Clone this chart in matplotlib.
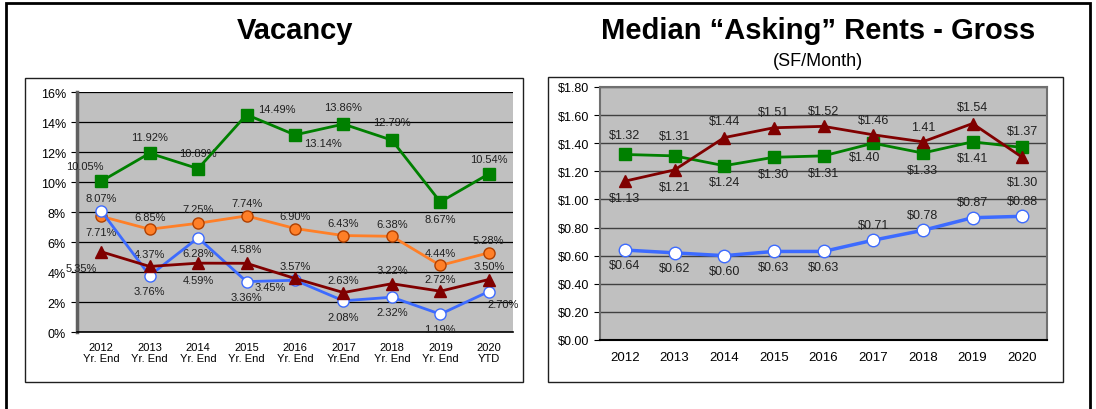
import matplotlib
matplotlib.use('Agg')
import matplotlib.pyplot as plt
import matplotlib.patches as mpatches
import numpy as np

plt.rcParams['font.family'] = ['Liberation Sans', 'DejaVu Sans']

W, H = 1096, 410

# ---- Vacancy data (%) ----
vac_labels = ['2012\nYr. End', '2013\nYr. End', '2014\nYr. End', '2015\nYr. End', '2016\nYr. End',
              '2017\nYr.End', '2018\nYr. End', '2019\nYr. End', '2020\nYTD']
vac_green = [10.05, 11.92, 10.89, 14.49, 13.14, 13.86, 12.79, 8.67, 10.54]
vac_orange = [7.71, 6.85, 7.25, 7.74, 6.90, 6.43, 6.38, 4.44, 5.28]
vac_blue = [8.07, 3.76, 6.28, 3.36, 3.45, 2.08, 2.32, 1.19, 2.70]
vac_red = [5.35, 4.37, 4.59, 4.58, 3.57, 2.63, 3.22, 2.72, 3.50]

# ---- Rent data ($/SF/month) ----
rent_years = ['2012', '2013', '2014', '2015', '2016', '2017', '2018', '2019', '2020']
rent_red = [1.13, 1.21, 1.44, 1.51, 1.52, 1.46, 1.41, 1.54, 1.30]
rent_green = [1.32, 1.31, 1.24, 1.30, 1.31, 1.40, 1.33, 1.41, 1.37]
rent_blue = [0.64, 0.62, 0.60, 0.63, 0.63, 0.71, 0.78, 0.87, 0.88]

GREEN = '#008000'
ORANGE = '#FF7F27'
BLUE = '#3D6BFF'
RED = '#800000'
BG = '#C0C0C0'


def px_axes(fig, x0, y0, x1, y1):
    return fig.add_axes([x0 / W, 1 - y1 / H, (x1 - x0) / W, (y1 - y0) / H])


def px_rect(fig, x0, y0, x1, y1, lw=1.0, color='#202020'):
    r = mpatches.Rectangle((x0 / W, 1 - y1 / H), (x1 - x0) / W, (y1 - y0) / H,
                           transform=fig.transFigure, fill=False, lw=lw, ec=color)
    fig.patches.append(r)


def label(ax, x, y, txt, off, fs=8):
    ax.annotate(txt, (x, y), textcoords='offset points', xytext=off,
                ha='center', va='center', fontsize=fs, color='#202020')


fig = plt.figure(figsize=(W / 100, H / 100), dpi=100)
fig.patch.set_facecolor('white')

# outer frame and chart boxes
px_rect(fig, 6, 4, 1090, 430, lw=2.0, color='black')
px_rect(fig, 25, 79, 523, 383)
px_rect(fig, 548, 78, 1063, 383)

fig.text(295 / W, 1 - 31 / H, 'Vacancy', ha='center', va='center', fontsize=21, fontweight='bold')
fig.text(818 / W, 1 - 31 / H, 'Median \u201cAsking\u201d Rents - Gross', ha='center', va='center',
         fontsize=21, fontweight='bold')
fig.text(818 / W, 1 - 62 / H, '(SF/Month)', ha='center', va='center', fontsize=13)

# ---------------- Vacancy ----------------
ax = px_axes(fig, 77, 93, 513, 333)
ax.set_facecolor(BG)
x = np.arange(len(vac_labels))
ax.plot(x, np.array(vac_green), color=GREEN, lw=2, marker='s', ms=9, mfc=GREEN, mec=GREEN, zorder=4)
ax.plot(x, np.array(vac_orange), color=ORANGE, lw=2, marker='o', ms=8, mfc=ORANGE, mec='#B04000', zorder=4)
ax.plot(x, np.array(vac_blue), color=BLUE, lw=2, marker='o', ms=8, mfc='white', mec=BLUE, zorder=4)
ax.plot(x, np.array(vac_red), color=RED, lw=2, marker='^', ms=8, mfc=RED, mec=RED, zorder=4)
ax.set_xlim(-0.5, len(x) - 0.5)
ax.set_ylim(0, 16)
ax.set_yticks(np.arange(0, 17, 2))
ax.set_yticklabels([f'{v}%' for v in range(0, 17, 2)], fontsize=9)
ax.set_xticks(x)
ax.set_xticklabels(vac_labels, fontsize=8, linespacing=1.15)
ax.tick_params(axis='x', length=0, pad=7)
ax.tick_params(axis='y', length=4, width=0.8, pad=4)
ax.grid(axis='y', color='black', lw=0.9)
ax.set_axisbelow(True)
for s in ['top', 'right']:
    ax.spines[s].set_visible(False)
ax.spines['left'].set_color('#606060')
ax.spines['left'].set_linewidth(2.5)
ax.spines['bottom'].set_color('black')
ax.spines['bottom'].set_linewidth(1.2)

g_off = [(-12, 11), (0, 12), (0, 11), (22, 4), (20, -6), (0, 12), (0, 13), (0, -12), (0, 11)]
o_off = [(0, -11), (0, 9), (0, 10), (0, 9), (0, 9), (0, 9), (0, 9), (0, 9), (0, 9)]
b_off = [(0, 9), (0, -11), (0, -11), (0, -11), (-18, -5), (0, -12), (0, -11), (0, -11), (10, -9)]
r_off = [(-14, -12), (0, 9), (0, -12), (0, 10), (0, 9), (0, 9), (0, 10), (0, 9), (0, 10)]
for i in x:
    label(ax, i, vac_green[i], f'{vac_green[i]:.2f}%', g_off[i])
    label(ax, i, vac_orange[i], f'{vac_orange[i]:.2f}%', o_off[i])
    label(ax, i, vac_blue[i], f'{vac_blue[i]:.2f}%', b_off[i])
    label(ax, i, vac_red[i], f'{vac_red[i]:.2f}%', r_off[i])

# ---------------- Rents ----------------
ax2 = px_axes(fig, 600, 88, 1047, 341)
ax2.set_facecolor(BG)
x2 = np.arange(len(rent_years))
ax2.plot(x2, rent_blue, color=BLUE, lw=2.5, marker='o', ms=9, mfc='white', mec=BLUE, zorder=4)
ax2.plot(x2, rent_green, color=GREEN, lw=2, marker='s', ms=9, mfc=GREEN, mec=GREEN, zorder=4)
ax2.plot(x2, rent_red, color=RED, lw=2, marker='^', ms=9, mfc=RED, mec=RED, zorder=5)
ax2.set_xlim(-0.5, len(x2) - 0.5)
ax2.set_ylim(0, 1.8)
yt = np.round(np.arange(0, 1.81, 0.2), 2)
ax2.set_yticks(yt)
ax2.set_yticklabels([f'${v:.2f}' for v in yt], fontsize=9)
ax2.set_xticks(x2)
ax2.set_xticklabels(rent_years, fontsize=9.5)
ax2.tick_params(axis='x', length=0, pad=8)
ax2.tick_params(axis='y', length=4, width=0.8, pad=4)
ax2.grid(axis='y', color='#404040', lw=1.0)
ax2.set_axisbelow(True)
for s in ['top', 'right', 'bottom', 'left']:
    ax2.spines[s].set_color('#707070')
    ax2.spines[s].set_linewidth(1.5)
ax2.spines['bottom'].set_color('black')

rr_off = [(0, -12), (0, -12), (0, 12), (0, 11), (0, 11), (0, 11), (0, 11), (0, 12), (0, -18)]
rr_txt = [f'${v:.2f}' for v in rent_red]
rr_txt[6] = f'{rent_red[6]:.2f}'
gg_off = [(0, 14), (0, 14), (0, -12), (0, -12), (0, -12), (-6, -10), (0, -12), (0, -12), (0, 12)]
bb_off = [(0, -11), (0, -11), (0, -11), (0, -11), (0, -11), (0, 11), (0, 11), (0, 11), (0, 11)]
for i in x2:
    label(ax2, i, rent_red[i], rr_txt[i], rr_off[i], fs=9)
    label(ax2, i, rent_green[i], f'${rent_green[i]:.2f}', gg_off[i], fs=9)
    label(ax2, i, rent_blue[i], f'${rent_blue[i]:.2f}', bb_off[i], fs=9)

plt.savefig('out.png', dpi=100)
